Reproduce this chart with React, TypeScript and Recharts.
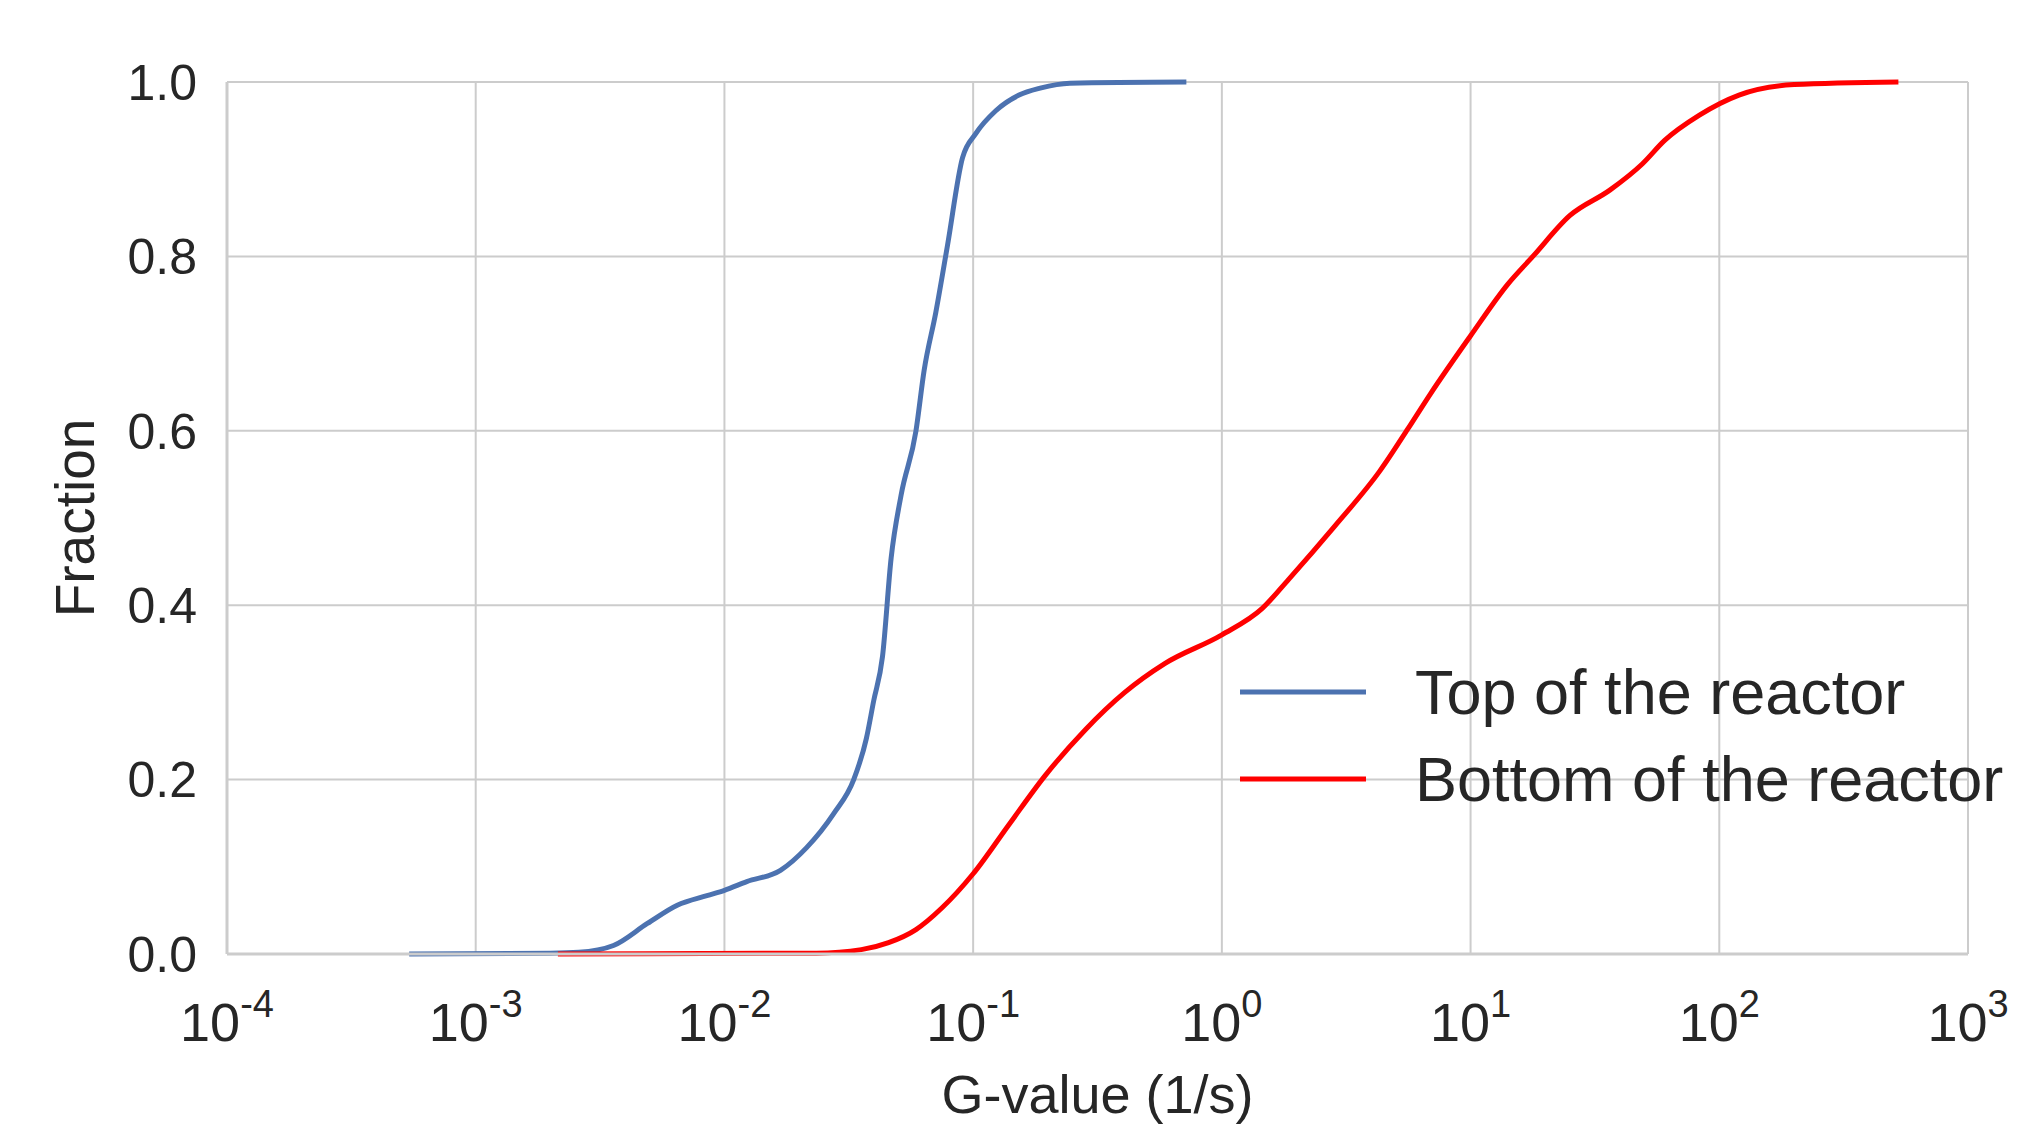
import { LineChart, Line, XAxis, YAxis, CartesianGrid, Legend } from "recharts";

// G-value (1/s) and cumulative fraction
const topG = [
  0.00054, 0.002, 0.0026, 0.00358, 0.0049, 0.00646, 0.0085, 0.01, 0.0123, 0.0168,
  0.0214, 0.0275, 0.0331, 0.0372, 0.0398, 0.0432, 0.0468, 0.0513, 0.0589, 0.0635,
  0.0708, 0.0789, 0.0906, 0.1026, 0.1233, 0.153, 0.186, 0.245, 0.72,
];
const topFrac = [
  0, 0.001, 0.002, 0.0098, 0.035, 0.056, 0.067, 0.073, 0.083, 0.096,
  0.122, 0.161, 0.2, 0.247, 0.29, 0.341, 0.454, 0.526, 0.6, 0.669,
  0.736, 0.813, 0.913, 0.941, 0.967, 0.985, 0.993, 0.9987, 1.0,
];

const bottomG = [
  0.00214, 0.0234, 0.0355, 0.0457, 0.0589, 0.075, 0.1, 0.139, 0.194, 0.282,
  0.407, 0.589, 1.0, 1.45, 1.86, 2.85, 4.32, 5.62, 6.92, 10,
  14.1, 17.8, 25.1, 36.3, 49, 60.3, 83.2, 120, 200, 525,
];
const bottomFrac = [
  0, 0.001, 0.005, 0.013, 0.028, 0.053, 0.092, 0.148, 0.204, 0.257,
  0.3, 0.333, 0.366, 0.396, 0.43, 0.491, 0.554, 0.603, 0.643, 0.709,
  0.768, 0.8, 0.847, 0.876, 0.906, 0.933, 0.962, 0.985, 0.997, 1.0,
];

const xTicks = [1e-4, 1e-3, 1e-2, 1e-1, 1e0, 1e1, 1e2, 1e3];
const yTicks = [0, 0.2, 0.4, 0.6, 0.8, 1.0];

const seriesNames = ["Top of the reactor", "Bottom of the reactor"];
const seriesColors = ["#4c72b0", "#ff0000"];

const topData = topG.map((g, i) => ({ g, frac: topFrac[i] }));
const bottomData = bottomG.map((g, i) => ({ g, frac: bottomFrac[i] }));

const textColor = "#262626";
const gridColor = "#cccccc";
const font = "'Liberation Sans', Arial, sans-serif";

const PowerTick = ({ x, y, payload }: any) => {
  const exp = Math.round(Math.log10(payload.value));
  return (
    <text x={x} y={y + 87} textAnchor="middle" fill={textColor} fontSize={54} fontFamily={font}>
      10
      <tspan dy={-24} fontSize={38}>
        {exp}
      </tspan>
    </text>
  );
};

const renderLegend = () => (
  <svg width={800} height={180}>
    {seriesNames.map((name, i) => (
      <g key={name}>
        <line x1={10} x2={136} y1={52 + i * 87} y2={52 + i * 87} stroke={seriesColors[i]} strokeWidth={5} />
        <text x={185} y={52 + i * 87 + 22} fontSize={63} fill={textColor} fontFamily={font}>
          {name}
        </text>
      </g>
    ))}
  </svg>
);

const yLabel = ({ viewBox }: any) => (
  <text
    x={0}
    y={0}
    transform={`translate(94, ${viewBox.y + viewBox.height / 2}) rotate(-90)`}
    textAnchor="middle"
    fill={textColor}
    fontSize={55}
    fontFamily={font}
  >
    Fraction
  </text>
);

export default function App() {
  return (
    <div>
      <style>{"body{margin:0}"}</style>
      <LineChart
        width={2036}
        height={1124}
        margin={{ top: 82, right: 68, left: 0, bottom: 0 }}
        style={{ fontFamily: font }}
      >
        <CartesianGrid stroke={gridColor} strokeWidth={2} />
        <XAxis
          dataKey="g"
          type="number"
          scale="log"
          domain={[1e-4, 1e3]}
          ticks={xTicks}
          allowDataOverflow
          height={170}
          tickLine={false}
          tickSize={0}
          tickMargin={0}
          axisLine={{ stroke: gridColor, strokeWidth: 3 }}
          tick={<PowerTick />}
          label={{ value: "G-value (1/s)", position: "insideBottom", offset: 11, fill: textColor, fontSize: 54 }}
        />
        <YAxis
          type="number"
          domain={[0, 1]}
          ticks={yTicks}
          width={227}
          tickFormatter={(v: number) => v.toFixed(1)}
          tickLine={false}
          tickSize={0}
          tickMargin={30}
          axisLine={{ stroke: gridColor, strokeWidth: 3 }}
          tick={{ fill: textColor, fontSize: 50 }}
          label={{ content: yLabel }}
        />
        <Legend
          layout="vertical"
          align="center"
          verticalAlign="middle"
          wrapperStyle={{ left: 1230, top: 640, width: 800 }}
          content={renderLegend}
        />
        <Line
          data={topData}
          dataKey="frac"
          name={seriesNames[0]}
          type="monotone"
          stroke={seriesColors[0]}
          strokeWidth={5}
          strokeLinejoin="round"
          dot={false}
          isAnimationActive={false}
        />
        <Line
          data={bottomData}
          dataKey="frac"
          name={seriesNames[1]}
          type="monotone"
          stroke={seriesColors[1]}
          strokeWidth={5}
          dot={false}
          isAnimationActive={false}
        />
      </LineChart>
    </div>
  );
}
